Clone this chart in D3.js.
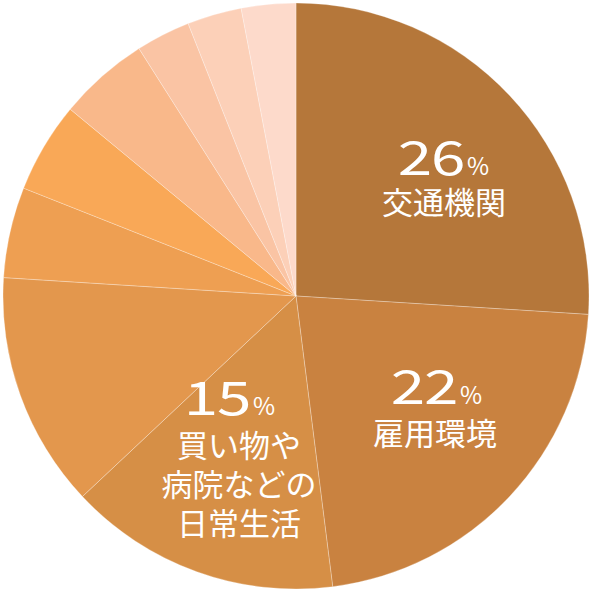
<!DOCTYPE html>
<html>
<head>
<meta charset="utf-8">
<script src="https://cdn.jsdelivr.net/npm/d3@7"></script>
<style>
  html, body { margin: 0; padding: 0; background: #fff; }
  svg text { font-family: "Noto Sans CJK JP", "Noto Sans", sans-serif; fill: #fff; }
</style>
</head>
<body>
<svg id="chart" width="592" height="592"></svg>
<script>
// slice values, clockwise from 12 o'clock
var values = [26, 22, 15, 13, 5, 5, 5, 3, 3, 3];
var colors = ['#B5773A', '#C98240', '#D68F46', '#E3974D', '#EE9F52',
              '#F9A857', '#F9B88A', '#FAC4A4', '#FCD0B8', '#FDDACB'];
// labels for the three big slices
var labelPct = ['26', '22', '15'];
var labelText = [['交通機関'], ['雇用環境'], ['買い物や', '病院などの', '日常生活']];

// layout of the labels: right edge of number, number baseline, text centre, first text baseline
var labelLayout = [
  { numEnd: 464, numY: 175, textX: 444, textY: 214 },
  { numEnd: 457, numY: 404, textX: 435, textY: 445 },
  { numEnd: 250, numY: 415, textX: 239, textY: 457 }
];
var lineGap = 39;

var svg = d3.select('#chart');
var cx = 296, cy = 296, radius = 293;

var pie = d3.pie().sort(null).value(d => d);
var arc = d3.arc().innerRadius(0).outerRadius(radius);

var g = svg.append('g').attr('transform', 'translate(' + cx + ',' + cy + ')');

g.selectAll('path')
  .data(pie(values))
  .enter()
  .append('path')
  .attr('d', arc)
  .attr('fill', (d, i) => colors[i])
  .attr('stroke', 'rgba(255,255,255,0.35)')
  .attr('stroke-width', 0.8);

labelPct.forEach(function(pct, i) {
  var L = labelLayout[i];

  // wide digits: stretch horizontally
  svg.append('text')
    .attr('transform', 'translate(' + L.numEnd + ',' + L.numY + ') scale(1.32,1)')
    .attr('text-anchor', 'end')
    .style('font-size', '47px')
    .style('font-weight', 400)
    .style('letter-spacing', '-1px')
    .text(pct);

  svg.append('text')
    .attr('x', L.numEnd + 3)
    .attr('y', L.numY)
    .style('font-size', '24px')
    .text('%');

  labelText[i].forEach(function(line, j) {
    svg.append('text')
      .attr('x', L.textX)
      .attr('y', L.textY + j * lineGap)
      .attr('text-anchor', 'middle')
      .style('font-size', '31px')
      .style('font-weight', 400)
      .text(line);
  });
});
</script>
</body>
</html>
